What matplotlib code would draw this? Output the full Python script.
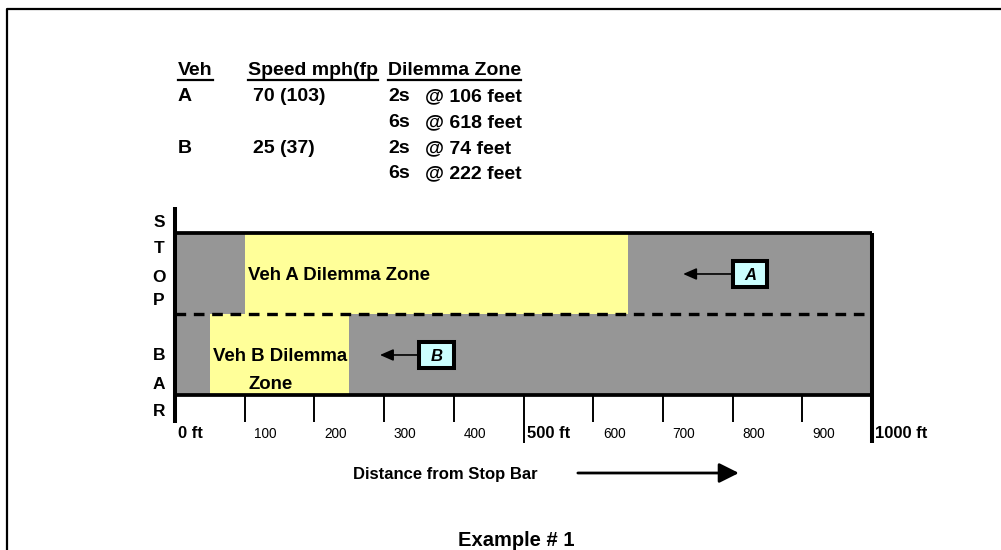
import matplotlib
matplotlib.use("Agg")
import matplotlib.pyplot as plt
from matplotlib.patches import Rectangle
from matplotlib.lines import Line2D

plt.rcParams['font.family'] = ['Liberation Sans', 'DejaVu Sans']

# --- data -------------------------------------------------------------
lanes = ["A", "B"]
lane_y = [1.5, 0.5]                  # A = upper lane, B = lower lane
zone_start = [100, 50]               # ft, as drawn
zone_end = [650, 250]

minor_ticks = [100, 200, 300, 400, 600, 700, 800, 900]
major_ticks = [0, 500, 1000]
major_labels = ["0 ft", "500 ft", "1000 ft"]

box_x = [825, 375]                   # vehicle marker position (ft)
arrow_tip = [729, 294]

tbl_header = ["Veh", "Speed mph(fp", "Dilemma Zone"]
tbl_veh = ["A", "", "B", ""]
tbl_speed = ["70 (103)", "", "25 (37)", ""]
tbl_time = ["2s", "6s", "2s", "6s"]
tbl_dist = ["@ 106 feet", "@ 618 feet", "@ 74 feet", "@ 222 feet"]

stop_bar = ["S", "T", "O", "P", "B", "A", "R"]
stop_bar_y = [2.068, 1.747, 1.401, 1.105, 0.426, 0.080, -0.265]

GRAY = "#969696"
YELLOW = "#FFFF99"
CYAN = "#CCFFFF"

W, H = 1001, 550
fig = plt.figure(figsize=(W / 100, H / 100), dpi=100)


def fx(px):
    return px / W


def fy(py):
    return 1 - py / H


# road axes: x in feet, y in lane units
ax = fig.add_axes([fx(175), fy(395), fx(872) - fx(175), fy(233) - fy(395)])
ax.set_xlim(0, 1000)
ax.set_ylim(0, 2)
ax.set_facecolor(GRAY)
for s in ax.spines.values():
    s.set_visible(False)
ax.set_xticks([])
ax.set_yticks([])

widths = [e - s for s, e in zip(zone_start, zone_end)]
ax.barh(lane_y, widths, left=zone_start, height=1, color=YELLOW, zorder=1)

# lane divider and road edges
ax.axhline(1, color="k", lw=2.4, ls=(0, (3.2, 2.3)), zorder=3)
ax.hlines([0, 2], 0, 1000, colors="k", lw=2.7, clip_on=False, zorder=4)
ax.vlines(0, -0.346, 2.32, colors="k", lw=2.9, clip_on=False, zorder=5)
ax.vlines(1000, -0.593, 2.0, colors="k", lw=2.9, clip_on=False, zorder=5)
ax.vlines(minor_ticks, -0.333, 0, colors="k", lw=1.4, clip_on=False)
ax.vlines(500, -0.593, 0, colors="k", lw=1.4, clip_on=False)

for v in minor_ticks:
    ax.text(v + 30, -0.531, str(v), ha="center", va="baseline",
            fontsize=9.8, clip_on=False)
for v, lab in zip(major_ticks, major_labels):
    ax.text(v + 5, -0.531, lab, ha="left", va="baseline", fontsize=12,
            fontweight="bold", clip_on=False)

for ch, y in zip(stop_bar, stop_bar_y):
    ax.text(-23, y, ch, ha="center", va="baseline", fontsize=12.5,
            fontweight="bold", clip_on=False)

# zone labels
ax.text(105, 1.42, "Veh A Dilemma Zone", ha="left", va="baseline",
        fontsize=13.4, fontweight="bold", zorder=6)
ax.text(54, 0.414, "Veh B Dilemma", ha="left", va="baseline", fontsize=13.4,
        fontweight="bold", zorder=6)
ax.text(105, 0.068, "Zone", ha="left", va="baseline", fontsize=13.4,
        fontweight="bold", zorder=6)

# vehicle markers with arrows
box_w, box_h = 50, 0.33
for veh, bx, y, tip in zip(lanes, box_x, lane_y, arrow_tip):
    cy = y - 0.006
    ax.add_patch(Rectangle((bx - box_w / 2, cy - box_h / 2), box_w, box_h,
                           facecolor=CYAN, edgecolor="k", lw=2.9, zorder=7))
    ax.text(bx, cy - 0.074, veh, ha="center", va="baseline", fontsize=12,
            fontweight="bold", fontstyle="italic", zorder=8)
    ax.annotate("", xy=(tip, cy), xytext=(bx - box_w / 2 - 2, cy),
                arrowprops=dict(arrowstyle="-|>,head_length=0.8,head_width=0.35",
                                color="k", lw=1.2, shrinkA=0, shrinkB=0,
                                mutation_scale=10), zorder=7)

# distance axis caption
fig.text(fx(353), fy(475), "Distance from Stop Bar", ha="left", va="center",
         fontsize=12, fontweight="bold")
ax.annotate("", xy=(809, -0.963), xytext=(578, -0.963), annotation_clip=False,
            arrowprops=dict(arrowstyle="-|>,head_length=1.2,head_width=0.6",
                            color="k", lw=2.0, shrinkA=0, shrinkB=0,
                            mutation_scale=10))

fig.text(fx(516), fy(540), "Example # 1", ha="center", va="center",
         fontsize=14.5, fontweight="bold")

# table
col_x = [178, 248, 388]
head_y = 75
row_y = [101, 127, 153, 178]
heads = []
for x, t in zip(col_x, tbl_header):
    heads.append(fig.text(fx(x), fy(head_y), t, ha="left", va="baseline",
                          fontsize=14, fontweight="bold"))
for i, yy in enumerate(row_y):
    for x, t in zip([178, 253, 388, 425],
                    [tbl_veh[i], tbl_speed[i], tbl_time[i], tbl_dist[i]]):
        if t:
            fig.text(fx(x), fy(yy), t, ha="left", va="baseline",
                     fontsize=14, fontweight="bold")

fig.canvas.draw()
for t in heads:
    bb = t.get_window_extent()
    fig.add_artist(Line2D([bb.x0 / W, bb.x1 / W], [fy(79.5), fy(79.5)],
                          transform=fig.transFigure, color="k", lw=1.6))

# outer frame (top and left only)
fig.add_artist(Line2D([fx(7), fx(7), 1], [0, fy(9), fy(9)],
                      transform=fig.transFigure, color="k", lw=1.6))

fig.savefig("out.png", dpi=100)
